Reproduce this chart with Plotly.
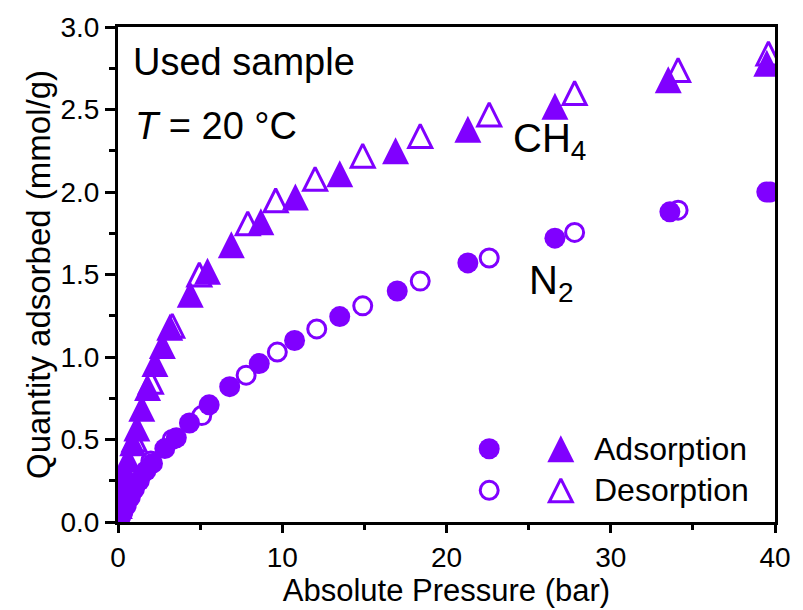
import plotly.graph_objects as go

# ---------------- data ----------------
n2_ads_p = [0.05, 0.15, 0.3, 0.5, 0.75, 1.0, 1.3, 1.7, 2.1, 2.85, 3.55, 4.35, 5.55, 6.8, 8.6, 10.75, 13.5, 17.0, 21.3, 26.6, 33.6, 39.5]
n2_ads_q = [0.01, 0.03, 0.06, 0.10, 0.15, 0.20, 0.25, 0.31, 0.355, 0.445, 0.51, 0.60, 0.71, 0.82, 0.96, 1.10, 1.245, 1.40, 1.57, 1.72, 1.88, 2.00]

n2_des_p = [39.7, 34.1, 27.8, 22.6, 18.4, 14.9, 12.1, 9.7, 7.8, 5.1, 3.3, 2.0, 1.0, 0.4]
n2_des_q = [2.00, 1.89, 1.755, 1.60, 1.46, 1.31, 1.17, 1.03, 0.89, 0.645, 0.50, 0.37, 0.22, 0.10]

ch4_ads_p = [0.03, 0.08, 0.15, 0.25, 0.4, 0.6, 0.9, 1.15, 1.45, 1.8, 2.25, 2.7, 3.15, 4.4, 5.45, 6.9, 8.7, 10.8, 13.5, 16.9, 21.3, 26.6, 33.5, 39.5]
ch4_ads_q = [0.04, 0.10, 0.16, 0.23, 0.30, 0.38, 0.48, 0.57, 0.69, 0.815, 0.96, 1.07, 1.18, 1.38, 1.52, 1.68, 1.82, 1.97, 2.11, 2.25, 2.38, 2.52, 2.68, 2.78]

ch4_des_p = [39.6, 34.1, 27.8, 22.6, 18.4, 14.9, 12.0, 9.6, 7.9, 4.95, 3.3, 2.0, 1.0, 0.4]
ch4_des_q = [2.84, 2.74, 2.60, 2.47, 2.34, 2.22, 2.08, 1.95, 1.81, 1.50, 1.19, 0.85, 0.50, 0.30]

x_ticks = [0, 10, 20, 30, 40]
y_ticks = [0.0, 0.5, 1.0, 1.5, 2.0, 2.5, 3.0]
legend_labels = ["Adsorption", "Desorption"]

# ---------------- styles ----------------
PURPLE = "#8000ff"
FONT = "Liberation Sans, Arial, sans-serif"
CIRCLE_SIZE = 21
TRI_SIZE = 27

fig = go.Figure()

def circles(x, y, filled, xa="x", ya="y"):
    return go.Scatter(
        x=x, y=y, mode="markers", xaxis=xa, yaxis=ya, showlegend=False, hoverinfo="skip",
        marker=dict(symbol="circle", size=CIRCLE_SIZE if filled else CIRCLE_SIZE - 3,
                    color=PURPLE if filled else "white",
                    line=dict(width=0 if filled else 3, color=PURPLE)),
    )

def triangles(x, y, filled, xa="x", ya="y"):
    s = TRI_SIZE if filled else TRI_SIZE - 4
    # arrow-down rotated by 180 deg = upward triangle; standoff centres it on the point
    return go.Scatter(
        x=x, y=y, mode="markers", xaxis=xa, yaxis=ya, showlegend=False, hoverinfo="skip",
        marker=dict(symbol="arrow-down", angle=180, size=s, standoff=s / 2,
                    color=PURPLE if filled else "white",
                    line=dict(width=0 if filled else 3, color=PURPLE)),
    )

# desorption first, adsorption on top
fig.add_trace(circles(n2_des_p, n2_des_q, False))
fig.add_trace(triangles(ch4_des_p, ch4_des_q, False))
fig.add_trace(circles(n2_ads_p, n2_ads_q, True))
fig.add_trace(triangles(ch4_ads_p, ch4_ads_q, True))

# legend drawn on an overlay axis in plot-area fractions
LEG_X_CIRC, LEG_X_TRI, LEG_X_TEXT = 0.565, 0.674, 0.722
LEG_Y = [0.148, 0.064]
for i, lab in enumerate(legend_labels):
    filled = (i == 0)
    fig.add_trace(circles([LEG_X_CIRC], [LEG_Y[i]], filled, "x2", "y2"))
    fig.add_trace(triangles([LEG_X_TRI], [LEG_Y[i]], filled, "x2", "y2"))
    fig.add_annotation(x=LEG_X_TEXT, y=LEG_Y[i], xref="x2", yref="y2", text=lab,
                       showarrow=False, xanchor="left", yanchor="middle",
                       font=dict(family=FONT, size=32, color="black"))

ann_font = dict(family=FONT, size=38, color="black")
big_font = dict(family=FONT, size=40, color="black")
fig.add_annotation(x=0.8, y=2.79, text="Used sample", showarrow=False,
                   xanchor="left", yanchor="middle", font=ann_font)
fig.add_annotation(x=0.9, y=2.40, text="<i>T</i> = 20 °C", showarrow=False,
                   xanchor="left", yanchor="middle", font=ann_font)
fig.add_annotation(x=23.9, y=2.31, text="CH<sub>4</sub>", showarrow=False,
                   xanchor="left", yanchor="middle", font=big_font)
fig.add_annotation(x=24.9, y=1.45, text="N<sub>2</sub>", showarrow=False,
                   xanchor="left", yanchor="middle", font=big_font)

axis_common = dict(showline=True, linewidth=3, linecolor="black", mirror=True,
                   ticks="outside", tickwidth=3, tickcolor="black",
                   showgrid=False, zeroline=False,
                   tickfont=dict(family=FONT, size=28, color="black"))

fig.update_layout(
    width=803, height=610, autosize=False,
    margin=dict(l=118, r=23, t=26, b=88),
    paper_bgcolor="white", plot_bgcolor="white",
    xaxis=dict(range=[0, 40], tickvals=x_ticks, ticklen=8,
               minor=dict(dtick=5, ticklen=5, tickwidth=3, ticks="outside", tickcolor="black"),
               title=dict(text="Absolute Pressure (bar)", standoff=0,
                          font=dict(family=FONT, size=31, color="black")),
               **axis_common),
    yaxis=dict(range=[0, 3], tickvals=y_ticks, tickformat=".1f", ticklen=10,
               minor=dict(dtick=0.25, ticklen=6, tickwidth=3, ticks="outside", tickcolor="black"),
               title=dict(text="Quantity adsorbed (mmol/g)", standoff=0,
                          font=dict(family=FONT, size=33, color="black")),
               **axis_common),
    xaxis2=dict(overlaying="x", range=[0, 1], visible=False),
    yaxis2=dict(overlaying="y", range=[0, 1], visible=False),
)

fig.write_html("out.html")
